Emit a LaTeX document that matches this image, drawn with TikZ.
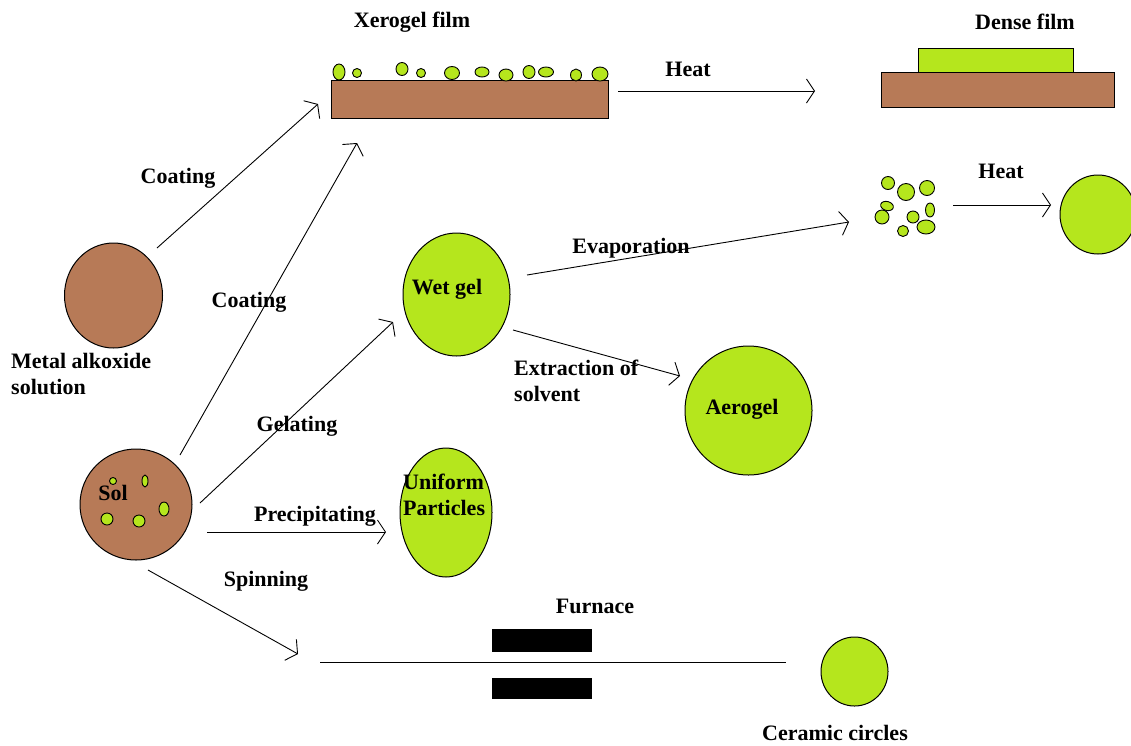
\documentclass[tikz,border=0pt]{standalone}
\usepackage{fontspec}
\setmainfont{Liberation Serif}
\usetikzlibrary{arrows.meta,shapes.geometric}
\definecolor{brownfill}{RGB}{183,122,87}
\definecolor{limefill}{RGB}{181,230,29}
\begin{document}
\begin{tikzpicture}[x=1pt,y=-1pt,
  lbl/.style={font=\fontsize{22}{26}\selectfont\bfseries, inner sep=0pt, text=black},
  brownblob/.style={ellipse, draw=black, fill=brownfill, line width=1pt, inner sep=0pt},
  limeblob/.style={ellipse, draw=black, fill=limefill, line width=1pt, inner sep=0pt},
  brownbar/.style={rectangle, draw=black, fill=brownfill, line width=1pt, inner sep=0pt, anchor=north west},
  limebar/.style={rectangle, draw=black, fill=limefill, line width=1pt, inner sep=0pt, anchor=north west},
  furnacebar/.style={rectangle, fill=black, inner sep=0pt, anchor=north west, minimum width=100pt, minimum height=23pt},
  bead/.style={ellipse, draw=black, fill=limefill, line width=0.9pt, inner sep=0pt},
  conn/.style={draw=black, line width=0.9pt, -{Straight Barb[length=8pt,width=24pt,line width=0.9pt]}},
  plainline/.style={draw=black, line width=1pt}
]
\useasboundingbox (0,0) rectangle (1131,745);
\fill[white] (0,0) rectangle (1131,745);

% ---- Xerogel film ----
\node[brownbar, minimum width=277pt, minimum height=38pt] (xsub) at (331,80) {};
\node[bead, minimum width=12pt, minimum height=16pt] (xb1) at (339,72) {};
\node[bead, minimum width=9pt, minimum height=9pt] (xb2) at (357,73) {};
\node[bead, minimum width=12pt, minimum height=13pt] (xb3) at (402,69) {};
\node[bead, minimum width=9pt, minimum height=9pt] (xb4) at (421,73) {};
\node[bead, minimum width=15pt, minimum height=13pt] (xb5) at (452,73) {};
\node[bead, minimum width=14pt, minimum height=10pt] (xb6) at (482,72) {};
\node[bead, minimum width=14pt, minimum height=12pt] (xb7) at (506,75) {};
\node[bead, minimum width=12pt, minimum height=13pt] (xb8) at (529,72) {};
\node[bead, minimum width=15pt, minimum height=10pt] (xb9) at (546,72) {};
\node[bead, minimum width=11pt, minimum height=12pt] (xb10) at (576,75) {};
\node[bead, minimum width=16pt, minimum height=14pt] (xb11) at (600,74) {};
\node[lbl] (xlabel) at (412,22) {Xerogel film};

% ---- Dense film ----
\node[brownbar, minimum width=233pt, minimum height=35pt] (dsub) at (881,72) {};
\node[limebar, minimum width=155pt, minimum height=24pt] (dfilm) at (918,48) {};
\node[lbl] (dlabel) at (1025,22) {Dense film};

% ---- Metal alkoxide solution ----
\node[brownblob, minimum width=98pt, minimum height=105pt] (alk) at (113.5,295.5) {};
\node[lbl, align=left, anchor=west] (alklabel) at (11,374) {Metal alkoxide\\solution};

% ---- Sol ----
\node[brownblob, minimum width=112pt, minimum height=111pt] (sol) at (136,504.5) {};
\node[bead, minimum width=7pt, minimum height=7pt] (sb1) at (113,481) {};
\node[bead, minimum width=6pt, minimum height=12pt] (sb2) at (145,481) {};
\node[bead, minimum width=10pt, minimum height=14pt] (sb3) at (164,509) {};
\node[bead, minimum width=12pt, minimum height=12pt] (sb4) at (107,519) {};
\node[bead, minimum width=12pt, minimum height=12pt] (sb5) at (139,521) {};
\node[lbl] (sollabel) at (113,493) {Sol};

% ---- Wet gel, Aerogel, Uniform particles ----
\node[limeblob, minimum width=107pt, minimum height=123pt] (wetgel) at (456.5,294.5) {};
\node[lbl] (wetgellabel) at (447,289) {Wet gel};
\node[limeblob, minimum width=127pt, minimum height=129pt] (aerogel) at (748.5,410.5) {};
\node[lbl] (aerogellabel) at (742,409) {Aerogel};
\node[limeblob, minimum width=92pt, minimum height=129pt] (uniform) at (446,512.5) {};
\node[lbl, align=left, anchor=west] (uniformlabel) at (403,495) {Uniform\\Particles};

% ---- Particle cluster and final sphere ----
\node[bead, minimum width=13pt, minimum height=13pt] (cb1) at (888,183) {};
\node[bead, minimum width=17pt, minimum height=17pt] (cb2) at (906,192) {};
\node[bead, minimum width=15pt, minimum height=15pt] (cb3) at (927,188) {};
\node[bead, minimum width=13pt, minimum height=9pt, rotate=-15] (cb4) at (887,206) {};
\node[bead, minimum width=14pt, minimum height=14pt] (cb5) at (882,217) {};
\node[bead, minimum width=9pt, minimum height=14pt] (cb6) at (930,210) {};
\node[bead, minimum width=12pt, minimum height=12pt] (cb7) at (913,217) {};
\node[bead, minimum width=18pt, minimum height=14pt] (cb8) at (926,227) {};
\node[bead, minimum width=11pt, minimum height=11pt] (cb9) at (903,231) {};
\node[limeblob, minimum width=76pt, minimum height=79pt] (sphere) at (1098,214.5) {};

% ---- Furnace and ceramic circle ----
\node[furnacebar] (furntop) at (492,629) {};
\node[furnacebar, minimum height=21pt] (furnbot) at (492,678) {};
\node[lbl] (furnlabel) at (595,606) {Furnace};
\node[limeblob, minimum width=67pt, minimum height=69pt] (ceramic) at (854.5,671.5) {};
\node[lbl] (ceramiclabel) at (835,733) {Ceramic circles};

% ---- connector end points ----
\coordinate (h1s) at (618,91);   \coordinate (h1e) at (815,91);
\coordinate (c1s) at (157,248);  \coordinate (c1e) at (318,104);
\coordinate (c2s) at (180,455);  \coordinate (c2e) at (357,143);
\coordinate (gs) at (200,503);   \coordinate (ge) at (393,322);
\coordinate (ps) at (207,532);   \coordinate (pe) at (386,532);
\coordinate (ss) at (148,570);   \coordinate (se) at (298,654);
\coordinate (es) at (527,275);   \coordinate (ee) at (849,222);
\coordinate (xs) at (513,330);   \coordinate (xe) at (680,376);
\coordinate (h2s) at (953,205);  \coordinate (h2e) at (1051,205);
\coordinate (fls) at (320,662);  \coordinate (fle) at (786,662);

% ---- connectors ----
\draw[conn] (h1s) -- (h1e);
\draw[conn] (c1s) -- (c1e);
\draw[conn] (c2s) -- (c2e);
\draw[conn] (gs) -- (ge);
\draw[conn] (ps) -- (pe);
\draw[conn] (ss) -- (se);
\draw[conn] (es) -- (ee);
\draw[conn] (xs) -- (xe);
\draw[conn] (h2s) -- (h2e);
\draw[plainline] (fls) -- (fle);

% ---- connector labels ----
\node[lbl] (heat1) at (688,69) {Heat};
\node[lbl] (coat1) at (178,178) {Coating};
\node[lbl] (coat2) at (249,302) {Coating};
\node[lbl] (gel) at (297,426) {Gelating};
\node[lbl] (prec) at (315,516) {Precipitating};
\node[lbl] (spin) at (266,581) {Spinning};
\node[lbl] (evap) at (631,248) {Evaporation};
\node[lbl, align=left, anchor=west] (extr) at (514,381) {Extraction of\\solvent};
\node[lbl] (heat2) at (1001,171) {Heat};
\end{tikzpicture}
\end{document}
